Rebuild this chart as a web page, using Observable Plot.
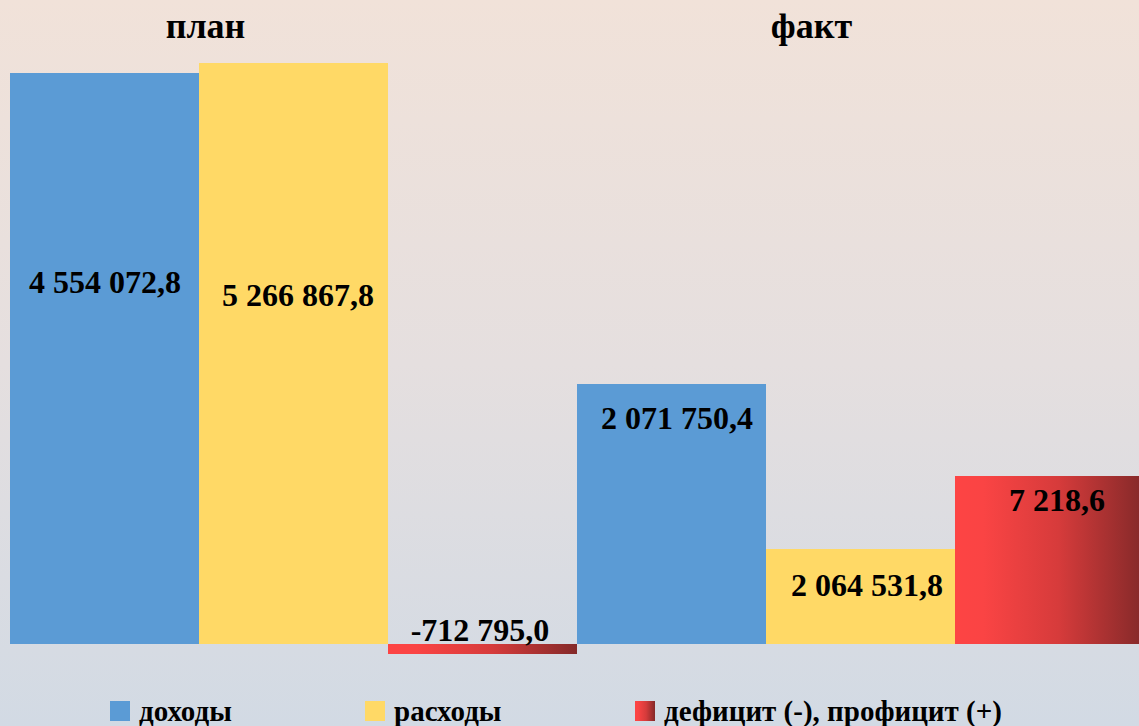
<!DOCTYPE html>
<html>
<head>
<meta charset="utf-8">
<script src="https://cdn.jsdelivr.net/npm/d3@7"></script>
<script src="https://cdn.jsdelivr.net/npm/@observablehq/plot@0.6"></script>
<style>
  html, body { margin: 0; padding: 0; overflow: hidden; }
  #wrap {
    position: relative; width: 1139px; height: 726px; overflow: hidden;
    background: linear-gradient(to bottom, #f1e2d9 0%, #e5dfdf 50%, #d2dae4 100%);
    font-family: "Liberation Serif", "Times New Roman", serif; font-weight: bold; color: #000;
  }
  .title { position: absolute; top: 8px; font-size: 36px; line-height: 36px; width: 200px; text-align: center; }
  .leg { position: absolute; top: 697px; font-size: 29px; line-height: 29px; white-space: nowrap; }
  .sw { position: absolute; top: 701px; width: 20px; height: 20px; }
  #chart { position: absolute; left: 0; top: 0; }
</style>
</head>
<body>
<div id="wrap">
  <div id="chart"></div>
</div>
<script>
// ---- data ----
const groups = ["план", "план", "план", "факт", "факт", "факт"];
const series = ["доходы", "расходы", "дефицит (-), профицит (+)", "доходы", "расходы", "дефицит (-), профицит (+)"];
const values = [4554072.8, 5266867.8, -712795.0, 2071750.4, 2064531.8, 7218.6];
// bar lengths as drawn in the source picture (the source is not to scale)
const drawnHeights = [571, 581, -9.7, 260, 94.7, 168];
const groupTitles = ["план", "факт"];
const legendLabels = ["доходы", "расходы", "дефицит (-), профицит (+)"];

const ru = d3.formatLocale({decimal: ",", thousands: "\u00a0", grouping: [3], minus: "-"});
const fmt = ru.format(",.1f");

const data = groups.map((g, i) => ({
  key: g + "|" + series[i] + "|" + i,
  group: g,
  series: series[i],
  value: values[i],
  h: drawnHeights[i],
  label: fmt(values[i])
}));

// label anchor heights (same units as drawnHeights)
const labelY = [362, 349, 14, 226, 59, 144];
const labelDx = [0, 4, -3, 5, 6, 7];

const colors = {"доходы": "#5b9bd5", "расходы": "#ffd966", "дефицит (-), профицит (+)": "url(#redGrad)"};

const plot = Plot.plot({
  width: 1139,
  height: 691,
  marginTop: 44,
  marginBottom: 27,
  marginLeft: 0,
  marginRight: 0,
  style: {background: "transparent"},
  x: {domain: data.map(d => d.key), range: [10, 1144], padding: 0, axis: null},
  y: {domain: [-20, 600], axis: null},
  marks: [
    ...legendLabels.map(s => Plot.barY(data.filter(d => d.series === s), {x: "key", y: "h", fill: colors[s], insetLeft: 0, insetRight: 0})),
    ...data.map((d, i) => Plot.text([d], {
      x: "key", y: () => labelY[i], text: "label", dx: labelDx[i],
      fontSize: 32, fontWeight: "bold", fontFamily: "Liberation Serif", fill: "#000"
    }))
  ]
});

const svg = d3.select(plot);
const defs = svg.insert("defs", ":first-child");
const grad = defs.append("linearGradient").attr("id", "redGrad").attr("x1", "0").attr("x2", "1").attr("y1", "0").attr("y2", "0");
grad.append("stop").attr("offset", "0%").attr("stop-color", "#fd4444");
grad.append("stop").attr("offset", "15%").attr("stop-color", "#fa4444");
grad.append("stop").attr("offset", "55%").attr("stop-color", "#d63b3b");
grad.append("stop").attr("offset", "100%").attr("stop-color", "#842929");
svg.attr("shape-rendering", "crispEdges");
document.getElementById("chart").appendChild(plot);

const wrap = document.getElementById("wrap");
// group titles
const titleCenters = [205.5, 811.5];
groupTitles.forEach((t, i) => {
  const el = document.createElement("div");
  el.className = "title";
  el.textContent = t;
  el.style.left = (titleCenters[i] - 100) + "px";
  wrap.appendChild(el);
});
// legend
const swLeft = [110, 365, 635];
legendLabels.forEach((s, i) => {
  const sw = document.createElement("div");
  sw.className = "sw";
  sw.style.left = swLeft[i] + "px";
  sw.style.background = s.startsWith("дефицит") ? "linear-gradient(to right, #fd4444 0%, #fa4444 15%, #d63b3b 55%, #842929 100%)" : colors[s];
  wrap.appendChild(sw);
  const t = document.createElement("div");
  t.className = "leg";
  t.style.left = (swLeft[i] + 29) + "px";
  t.textContent = s;
  wrap.appendChild(t);
});
</script>
</body>
</html>
